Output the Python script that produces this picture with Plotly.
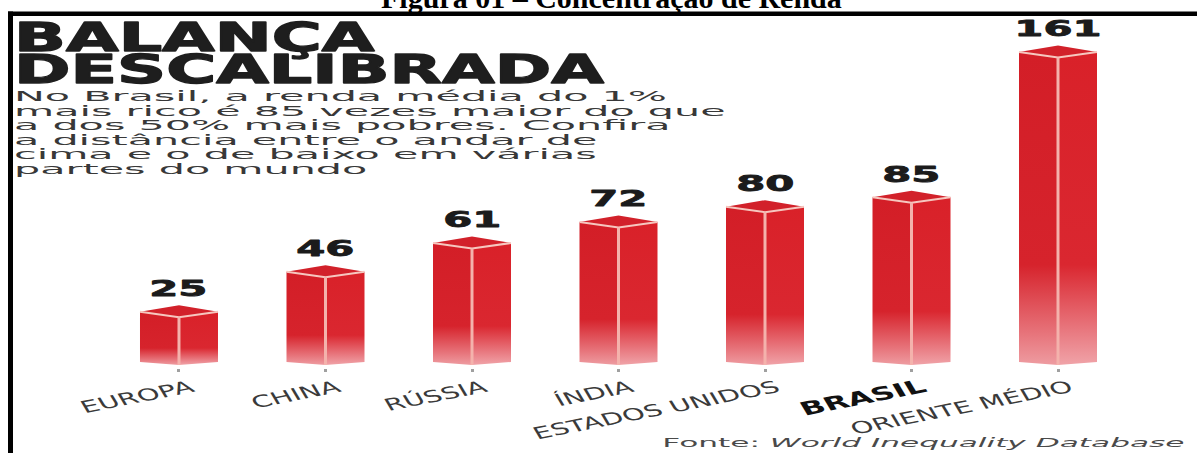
import json
import plotly.graph_objects as go

# ---- data ---------------------------------------------------------------
CATEGORIES = ["EUROPA", "CHINA", "RÚSSIA", "ÍNDIA", "ESTADOS UNIDOS", "BRASIL", "ORIENTE MÉDIO"]
VALUES = [25, 46, 61, 72, 80, 85, 161]
HIGHLIGHT = "BRASIL"

TITLE_LINES = ["BALANÇA", "DESCALIBRADA"]
SUBTITLE_LINES = [
    "No Brasil, a renda média do 1%",
    "mais rico é 85 vezes maior do que",
    "a dos 50% mais pobres. Confira",
    "a distância entre o andar de",
    "cima e o de baixo em várias",
    "partes do mundo",
]
CAPTION = "Figura 01 – Concentração de Renda"
SOURCE = "Fonte: <i>World Inequality Database</i>"

# ---- canvas / axes ------------------------------------------------------
W, H = 1197, 453
MARGIN_B = 85
PLOT_H = H - MARGIN_B
X_RANGE = [-1.2218, 6.9488]
Y_RANGE = [-1.57, 191.1]
PX_X = W / (X_RANGE[1] - X_RANGE[0])
PX_Y = PLOT_H / (Y_RANGE[1] - Y_RANGE[0])

# box geometry (pixels -> axis units)
HALF_W = 39 / PX_X
TOP_SIDE = 5.5 / PX_Y
TOP_BACK = 12 / PX_Y
BOTTOM_SIDE = 3 / PX_Y

FONT_SANS = "DejaVu Sans, Verdana, sans-serif"
FONT_SERIF = "Liberation Serif, Times New Roman, serif"

TITLE_SIZE = 38.5
SUB_SIZE = 14
VALUE_SIZE = 22
SOURCE_SIZE = 13

LEFT_GRAD = [[0, "#ee9ca1"], [0.1, "#e7747b"], [0.32, "#d6232c"], [1, "#d31e27"]]
RIGHT_GRAD = [[0, "#f0a3a8"], [0.1, "#e97c83"], [0.32, "#da2730"], [1, "#d92129"]]


def px_to_paper_x(px):
    return px / W


def px_to_paper_y(px):
    return (PLOT_H - px) / PLOT_H


fig = go.Figure()

for i, v in enumerate(VALUES):
    # left face
    fig.add_trace(go.Scatter(
        x=[i - HALF_W, i - HALF_W, i, i, i - HALF_W],
        y=[BOTTOM_SIDE, v + TOP_SIDE, v, 0, BOTTOM_SIDE],
        mode="lines", fill="toself", line=dict(width=0),
        fillgradient=dict(type="vertical", colorscale=LEFT_GRAD),
        hoverinfo="skip", showlegend=False,
    ))
    # right face
    fig.add_trace(go.Scatter(
        x=[i, i, i + HALF_W, i + HALF_W, i],
        y=[0, v, v + TOP_SIDE, BOTTOM_SIDE, 0],
        mode="lines", fill="toself", line=dict(width=0),
        fillgradient=dict(type="vertical", colorscale=RIGHT_GRAD),
        hoverinfo="skip", showlegend=False,
    ))
    # top face
    fig.add_trace(go.Scatter(
        x=[i - HALF_W, i, i + HALF_W, i, i - HALF_W],
        y=[v + TOP_SIDE, v + TOP_BACK, v + TOP_SIDE, v, v + TOP_SIDE],
        mode="lines", fill="toself", line=dict(width=0),
        fillcolor="#d2212a", hoverinfo="skip", showlegend=False,
    ))
    # highlighted front edges
    fig.add_trace(go.Scatter(
        x=[i - HALF_W, i, i + HALF_W],
        y=[v + TOP_SIDE, v, v + TOP_SIDE],
        mode="lines", line=dict(color="#f6c7bf", width=2),
        hoverinfo="skip", showlegend=False,
    ))
    fig.add_trace(go.Scatter(
        x=[i, i], y=[v, 0],
        mode="lines", line=dict(color="#f4b2ac", width=3),
        hoverinfo="skip", showlegend=False,
    ))

annotations = []

# value labels above each column
for i, v in enumerate(VALUES):
    annotations.append(dict(
        x=i, y=v, xref="x", yref="y", text=f"<b>{v}</b>",
        showarrow=False, xanchor="center", yanchor="bottom", yshift=14,
        font=dict(family=FONT_SANS, size=VALUE_SIZE, color="#1b1b1b"),
    ))

# headline (two lines, tight leading set after render)
annotations.append(dict(
    x=px_to_paper_x(12), y=px_to_paper_y(50 - 36.7),
    xref="paper", yref="paper", text="<b>" + "<br>".join(TITLE_LINES) + "</b>",
    showarrow=False, xanchor="left", yanchor="top", align="left",
    font=dict(family=FONT_SANS, size=TITLE_SIZE, color="#1e1e1e"),
))

# intro text
annotations.append(dict(
    x=px_to_paper_x(12), y=px_to_paper_y(100 - 14.0),
    xref="paper", yref="paper", text="<br>".join(SUBTITLE_LINES),
    showarrow=False, xanchor="left", yanchor="top", align="left",
    font=dict(family=FONT_SANS, size=SUB_SIZE, color="#383838"),
))

# document caption (partly cut by the page edge)
annotations.append(dict(
    x=px_to_paper_x(611), y=px_to_paper_y(7 - 27.7),
    xref="paper", yref="paper", text=f"<b>{CAPTION}</b>",
    showarrow=False, xanchor="center", yanchor="top",
    font=dict(family=FONT_SERIF, size=30, color="#000000"),
))

# source
annotations.append(dict(
    x=px_to_paper_x(1187), y=px_to_paper_y(446 - 13.1),
    xref="paper", yref="paper", text=SOURCE,
    showarrow=False, xanchor="right", yanchor="top",
    font=dict(family=FONT_SANS, size=SOURCE_SIZE, color="#4a4a4a"),
))

tick_text = [
    f"<b><span style='font-size:18.5px;color:#111111'>{c}</span></b>" if c == HIGHLIGHT else c
    for c in CATEGORIES
]

fig.update_layout(
    width=W, height=H,
    margin=dict(l=0, r=0, t=0, b=MARGIN_B, autoexpand=False),
    paper_bgcolor="white", plot_bgcolor="white",
    showlegend=False,
    annotations=annotations,
    shapes=[
        dict(type="rect", xref="paper", yref="paper",
             x0=px_to_paper_x(8), x1=px_to_paper_x(W + 2),
             y0=px_to_paper_y(16), y1=px_to_paper_y(11.5),
             fillcolor="black", line=dict(width=0), layer="above"),
        dict(type="rect", xref="paper", yref="paper",
             x0=px_to_paper_x(8), x1=px_to_paper_x(13),
             y0=px_to_paper_y(H + 2), y1=px_to_paper_y(11.5),
             fillcolor="black", line=dict(width=0), layer="above"),
    ],
    xaxis=dict(
        range=X_RANGE, tickvals=list(range(len(CATEGORIES))), ticktext=tick_text,
        tickangle=-19, ticks="outside", ticklen=3, tickwidth=3, tickcolor="#a0a0a0",
        ticklabelshift=14,
        tickfont=dict(family=FONT_SANS, size=16.5, color="#3a3a3a"),
        showgrid=False, zeroline=False, showline=False, automargin=False,
        fixedrange=True,
    ),
    yaxis=dict(range=Y_RANGE, visible=False, fixedrange=True),
)

# horizontal stretch, leading and stroke weight for the display typography
TEXT_RULES = [
    {"size": TITLE_SIZE, "scale": 1.77, "origin": "left", "leading": 32.0 / TITLE_SIZE, "stroke": 1.3},
    {"size": SUB_SIZE, "scale": 2.95, "origin": "left", "leading": 14.6 / SUB_SIZE, "stroke": 0},
    {"size": VALUE_SIZE, "scale": 1.9, "origin": "center", "leading": 0, "stroke": 0.8},
    {"size": SOURCE_SIZE, "scale": 2.4, "origin": "right", "leading": 0, "stroke": 0},
]
TICK_STRETCH = 1.75

post_js = """
(function(){
  try {
    var gd = document.getElementById('{plot_id}');
    var rules = %s;
    var tickScale = %s;
    function curMatrix(el){
      var b = el.transform.baseVal.consolidate();
      if (!b) return new DOMMatrix();
      var m = b.matrix;
      return new DOMMatrix([m.a, m.b, m.c, m.d, m.e, m.f]);
    }
    function stretch(el, s, lx, ly){
      var M = curMatrix(el);
      var p = M.transformPoint(new DOMPoint(lx, ly));
      var R = new DOMMatrix().translate(p.x, 0).scale(s, 1).translate(-p.x, 0).multiply(M);
      el.setAttribute('transform', 'matrix(' + [R.a, R.b, R.c, R.d, R.e, R.f].join(',') + ')');
    }
    gd.querySelectorAll('.annotation-text').forEach(function(el){
      var fs = parseFloat(el.style.fontSize);
      rules.forEach(function(r){
        if (Math.abs(fs - r.size) < 0.01) {
          if (r.leading) {
            var lines = el.querySelectorAll('tspan.line');
            for (var k = 1; k < lines.length; k++) {
              lines[k].setAttribute('dy', (k * r.leading) + 'em');
            }
          }
          if (r.stroke) {
            el.style.stroke = el.style.fill;
            el.style.strokeWidth = r.stroke + 'px';
            el.style.strokeLinejoin = 'round';
          }
          var bb = el.getBBox();
          var lx = r.origin === 'left' ? bb.x : (r.origin === 'right' ? bb.x + bb.width : bb.x + bb.width / 2);
          stretch(el, r.scale, lx, bb.y + bb.height / 2);
        }
      });
    });
    gd.querySelectorAll('.xtick text').forEach(function(el){
      var x = parseFloat(el.getAttribute('x')) || 0;
      var y = parseFloat(el.getAttribute('y')) || 0;
      stretch(el, tickScale, x, y);
    });
  } catch (e) { console.log(e); }
})();
""" % (json.dumps(TEXT_RULES), json.dumps(TICK_STRETCH))

fig.write_html("out.html", post_script=post_js, config={"displayModeBar": False, "staticPlot": True})
